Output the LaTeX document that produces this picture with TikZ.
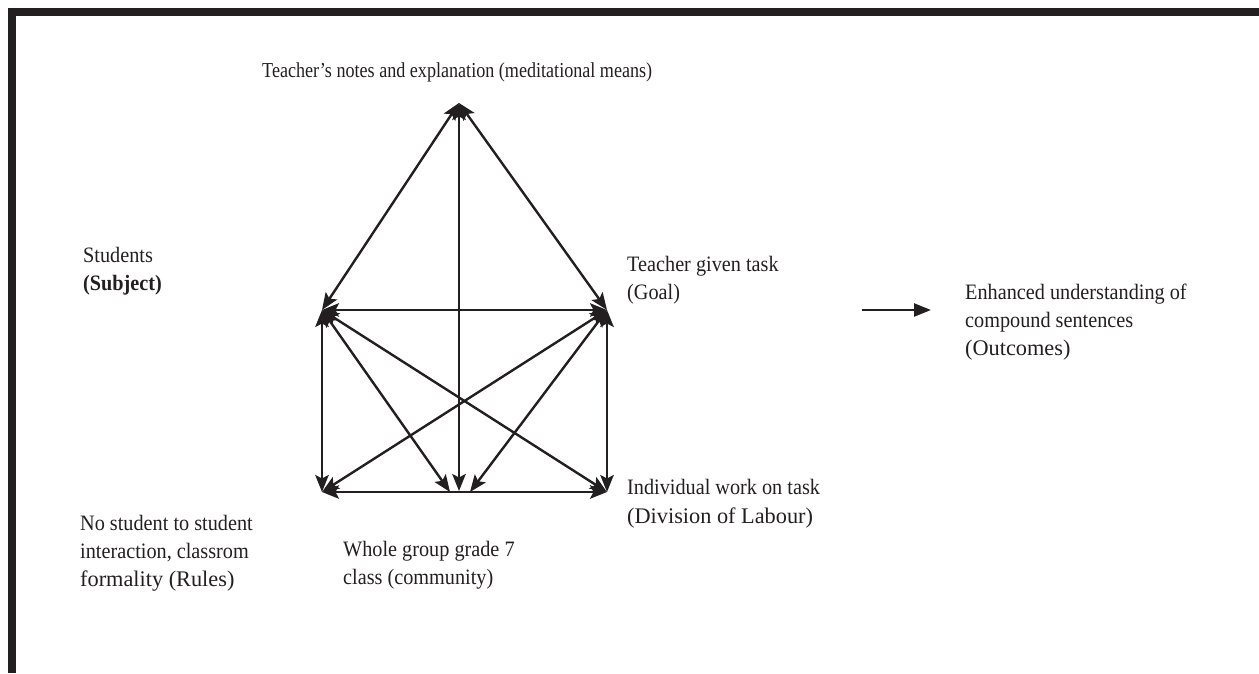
\documentclass[tikz,border=0pt]{standalone}
\usepackage{fontspec}
\setmainfont[FakeStretch=0.92]{Liberation Serif}
\newfontfamily\plainserif{Liberation Serif}
\newfontfamily\narrowserif[FakeStretch=0.85]{Liberation Serif}
\usetikzlibrary{arrows.meta}
\definecolor{ink}{HTML}{231F20}
\begin{document}
\begin{tikzpicture}[x=1pt,y=1pt,
  tip/.tip={Stealth[length=17pt,width=13.5pt,inset=3.5pt]},
  link/.style={draw=ink, line width=2.4pt, tip-tip},
  lbl/.style={anchor=base west, inner sep=0pt, align=left,
    font=\fontsize{22}{28}\selectfont, text=ink},
]
\newcommand\largerline{\plainserif\fontsize{22.3}{28}\selectfont}
\useasboundingbox (0,0) rectangle (1259,673);
% frame on the left and top edges
\draw[ink, line width=7.7pt] (11.8,0) -- (11.8,660.8) -- (1259,660.8);

% corners of the activity system
\coordinate (T)  at (459,570);
\coordinate (UL) at (322,363);
\coordinate (UR) at (607,363);
\coordinate (LL) at (322,181);
\coordinate (LR) at (607,181);
\coordinate (BM) at (459,182);
\coordinate (BL) at (450,181);
\coordinate (BR) at (470,181);

% connectors
\draw[link] (T) -- (UL);
\draw[link] (T) -- (UR);
\draw[link] (T) -- (BM);
\draw[link] (UL) -- (UR);
\draw[link] (UL) -- (LL);
\draw[link] (UR) -- (LR);
\draw[link] (LL) -- (LR);
\draw[link] (UL) -- (LR);
\draw[link] (UR) -- (LL);
\draw[link] (UL) -- (BL);
\draw[link] (UR) -- (BR);

% labels (anchored at the baseline of their last line)
\node[lbl, font=\narrowserif\fontsize{21.3}{28}\selectfont] (means) at (262,595) {Teacher’s notes and explanation (meditational means)};
\node[lbl] (subj) at (83,382) {Students\\\textbf{(Subject)}};
\node[lbl] (goal) at (627,373) {Teacher given task\\(Goal)};
\node[lbl] (outc) at (965,317) {Enhanced understanding of\\compound sentences\\{\largerline (Outcomes)}};
\node[lbl] (divl) at (627,150) {Individual work on task\\{\largerline (Division of Labour)}};
\node[lbl] (rules) at (80,87) {No student to student\\interaction, classrom\\{\largerline formality (Rules)}};
\node[lbl] (comm) at (343,89) {Whole group grade 7\\class (community)};

% goal leads to outcome
\coordinate (ga) at (862,363);
\coordinate (gb) at (931,363);
\draw[draw=ink, line width=2.4pt, -{Triangle[length=17pt,width=13pt]}] (ga) -- (gb);
\end{tikzpicture}
\end{document}
